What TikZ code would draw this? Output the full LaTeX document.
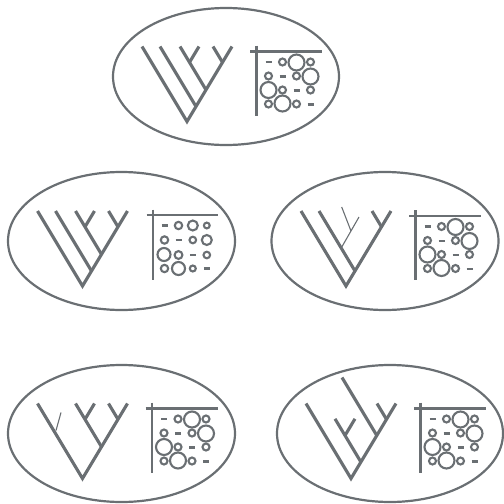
\documentclass[tikz,border=0pt]{standalone}
\usetikzlibrary{calc}
\definecolor{ink}{RGB}{106,111,115}
\tikzset{
  oval/.style={draw=ink, line width=2.2pt},
  branch/.style={draw=ink, line width=3.1pt, line cap=butt, line join=miter},
  twig/.style={draw=ink, line width=1.1pt},
  axisline/.style={draw=ink, line width=2.4pt},
  blob/.style={draw=ink, line width=2.1pt},
  bar/.style={draw=ink, line width=2.2pt},
  matbig/.pic={
    \draw[axisline] (30.5,-31) -- (30.5,39);
    \draw[axisline] (24,-25) -- (96,-25);
    % row 1
    \draw[bar] (39.5,-14.5) -- (45.5,-14.5);
    \draw[blob] (56.5,-14.5) circle [radius=3.5];
    \draw[blob] (70.5,-14) circle [radius=8];
    \draw[blob] (84.5,-14.5) circle [radius=3.5];
    % row 2
    \draw[blob] (42.5,-0.5) circle [radius=3.5];
    \draw[bar] (53.5,0) -- (59.5,0);
    \draw[blob] (70.5,-0.5) circle [radius=3.5];
    \draw[blob] (84.5,0) circle [radius=8];
    % row 3
    \draw[blob] (42.5,13.5) circle [radius=8];
    \draw[blob] (56.5,13.5) circle [radius=3.5];
    \draw[bar] (67.5,14) -- (73.5,14);
    \draw[blob] (84.5,13.5) circle [radius=3.5];
    % row 4
    \draw[blob] (42.5,27.5) circle [radius=3.5];
    \draw[blob] (56.5,27) circle [radius=8];
    \draw[blob] (70.5,27.5) circle [radius=3.5];
    \draw[bar] (81.5,28) -- (87.5,28);
  },
  matsmall/.pic={
    \draw[axisline] (31.5,-31.5) -- (31.5,38.5);
    \draw[axisline] (25,-26) -- (96,-26);
    % row 1
    \draw[bar] (40,-15.5) -- (46,-15.5);
    \draw[blob] (57,-15.5) circle [radius=3.7];
    \draw[blob] (71.3,-15.5) circle [radius=5];
    \draw[blob] (85.3,-15.5) circle [radius=2.9];
    % row 2
    \draw[blob] (43,-1) circle [radius=3.7];
    \draw[bar] (54,-1) -- (60,-1);
    \draw[blob] (71.3,-1) circle [radius=3.3];
    \draw[blob] (85.3,-1) circle [radius=5];
    % row 3
    \draw[blob] (42.5,13.5) circle [radius=6.5];
    \draw[blob] (57,14) circle [radius=3.9];
    \draw[bar] (68.3,14) -- (74.3,14);
    \draw[blob] (85.3,14) circle [radius=3.3];
    % row 4
    \draw[blob] (43,27.5) circle [radius=3.7];
    \draw[blob] (57,27.5) circle [radius=6.5];
    \draw[blob] (71.3,27.5) circle [radius=3];
    \draw[bar] (82.3,27.5) -- (88.3,27.5);
  }
}
\begin{document}
\begin{tikzpicture}[x=1pt,y=-1pt]
\useasboundingbox (0,0) rectangle (504,504);

% ---- top
\begin{scope}[shift={(226,76.5)}]
  \draw[oval] (0,0) ellipse [x radius=113, y radius=68.5];
  \draw[branch] (-84,-30) -- (-39,45) -- (6,-30);
  \draw[branch] (-66,-30) -- (-30,30);
  \draw[branch] (-46,-30) -- (-20,13.33);
  \draw[branch] (-27,-30) -- (-36.5,-14.17);
  \draw[branch] (-13,-30) -- (-3.5,-14.17);
  \pic {matbig};
\end{scope}

% ---- middle left
\begin{scope}[shift={(121.5,241)}]
  \draw[oval] (0,0) ellipse [x radius=113.5, y radius=69];
  \draw[branch] (-84,-30) -- (-39,45) -- (6,-30);
  \draw[branch] (-66,-30) -- (-30,30);
  \draw[branch] (-46,-30) -- (-20,13.33);
  \draw[branch] (-27,-30) -- (-36.5,-14.17);
  \draw[branch] (-13,-30) -- (-3.5,-14.17);
  \pic {matsmall};
\end{scope}

% ---- middle right
\begin{scope}[shift={(385,241)}]
  \draw[oval] (0,0) ellipse [x radius=113.5, y radius=69];
  \draw[branch] (-84,-30) -- (-39,45) -- (6,-30);
  \draw[branch] (-66,-30) -- (-30,30);
  \draw[branch] (-13,-30) -- (-3.5,-14.17);
  \draw[twig] (-26,-24) -- (-43.5,6.5);
  \draw[twig] (-43.3,-34) -- (-34,-10);
  \pic {matbig};
\end{scope}

% ---- bottom left
\begin{scope}[shift={(121.5,433.5)}]
  \draw[oval] (0,0) ellipse [x radius=113.5, y radius=68.5];
  \draw[branch] (-84,-30) -- (-39,45) -- (6,-30);
  \draw[branch] (-46,-30) -- (-20,13.33);
  \draw[branch] (-27,-30) -- (-36.5,-14.17);
  \draw[branch] (-13,-30) -- (-3.5,-14.17);
  \draw[twig] (-60.5,-21) -- (-65.5,-3);
  \pic {matbig};
\end{scope}

% ---- bottom right
\begin{scope}[shift={(390,433.5)}]
  \draw[oval] (0,0) ellipse [x radius=113, y radius=68.5];
  \draw[branch] (-84,-30) -- (-39,45) -- (6,-30);
  \draw[branch] (-13,-30) -- (-3.5,-14.17);
  \draw[branch] (-48,-56) -- (-13.2,2);
  \draw[branch] (-55,-14.7) -- (-29.1,28.5);
  \draw[branch] (-35,-14.7) -- (-45,2);
  \pic {matbig};
\end{scope}
\end{tikzpicture}
\end{document}
